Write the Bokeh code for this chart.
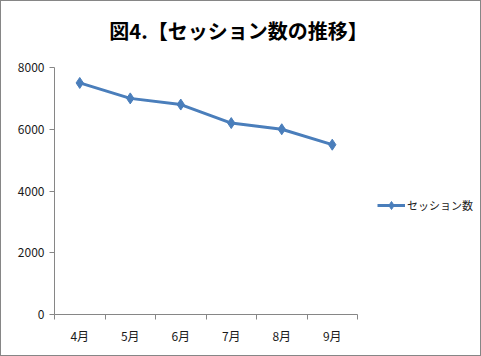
from bokeh.plotting import figure
from bokeh.models import FixedTicker, Legend, LegendItem, ColumnDataSource, Range1d, Label
from bokeh.embed import file_html
from bokeh.resources import INLINE

months = ["4月", "5月", "6月", "7月", "8月", "9月"]
sessions = [7500, 7000, 6800, 6200, 6000, 5500]
y_ticks = [0, 2000, 4000, 6000, 8000]
series_name = "セッション数"
title_text = "図4.【セッション数の推移】"

xs = [i + 0.5 for i in range(len(months))]
src = ColumnDataSource(dict(x=xs, y=sessions))

FONT = "Noto Sans CJK JP"
GRAY = "#868686"
BLUE = "#4A7EBB"

W, H = 481, 356
LEFT, TOP, BOTTOM = 54, 1, 42
AXIS_W = 303          # pixel length of the category axis
AXIS_H = 247          # pixel length of the value axis
FRAME_W = W - LEFT - 1
FRAME_H = H - TOP - BOTTOM
y_max = y_ticks[-1]
x_end = len(months) * FRAME_W / AXIS_W
y_end = y_max * FRAME_H / AXIS_H

p = figure(width=W, height=H, output_backend="svg", toolbar_location=None,
           x_range=Range1d(0, x_end), y_range=Range1d(0, y_end))
p.min_border_left = LEFT
p.min_border_right = 1
p.min_border_top = TOP
p.min_border_bottom = BOTTOM
p.outline_line_color = None
p.border_fill_color = None
p.background_fill_color = None
p.xgrid.visible = False
p.ygrid.visible = False
p.styles = {"outline": "1px solid #868686", "outline-offset": "-1px"}

title = Label(x=184, y=284, x_units="screen", y_units="screen", text=title_text,
              text_align="center", text_baseline="middle", text_font=FONT,
              text_font_size="20px", text_font_style="bold", text_color="#000000")
p.add_layout(title)

r = p.line("x", "y", source=src, line_color=BLUE, line_width=3)
m = p.scatter("x", "y", source=src, marker="diamond", size=11, fill_color=BLUE, line_color=BLUE)

xa = p.xaxis[0]
xa.bounds = (0, len(months))
xa.ticker = FixedTicker(ticks=xs, minor_ticks=list(range(len(months) + 1)))
xa.major_label_overrides = {x: mth for x, mth in zip(xs, months)}
xa.major_tick_line_color = None
xa.minor_tick_line_color = GRAY
xa.minor_tick_in = 0
xa.minor_tick_out = 5
xa.axis_line_color = GRAY
xa.major_label_standoff = 6
xa.major_label_text_font = FONT
xa.major_label_text_font_size = "12px"
xa.major_label_text_color = "#1a1a1a"

ya = p.yaxis[0]
ya.bounds = (0, y_max)
ya.ticker = FixedTicker(ticks=y_ticks)
ya.minor_tick_line_color = None
ya.major_tick_line_color = GRAY
ya.major_tick_in = 0
ya.major_tick_out = 5
ya.axis_line_color = GRAY
ya.major_label_standoff = 5
ya.major_label_text_font = FONT
ya.major_label_text_font_size = "12px"
ya.major_label_text_color = "#1a1a1a"

legend = Legend(items=[LegendItem(label=series_name, renderers=[r, m])],
                location=(323, 99), padding=0, margin=0, spacing=0,
                glyph_width=28, glyph_height=20, label_standoff=2,
                label_text_font=FONT, label_text_font_size="11px",
                label_text_color="#1a1a1a", border_line_color=None,
                background_fill_alpha=0)
p.add_layout(legend)

open("out.html", "w").write(file_html(p, INLINE))
